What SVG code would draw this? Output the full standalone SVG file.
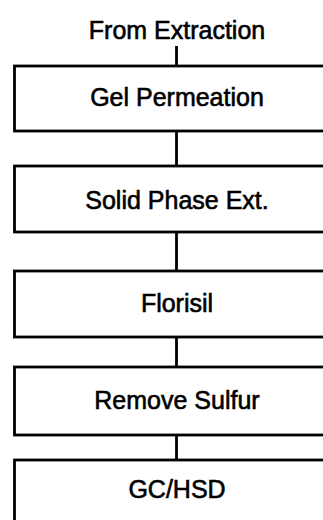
<svg xmlns="http://www.w3.org/2000/svg" width="323" height="520" viewBox="0 0 323 520">
  <style>
    .box { fill: #ffffff; stroke: #000000; stroke-width: 2.8; }
    .wire { stroke: #000000; stroke-width: 2.8; fill: none; }
    .label { font-family: "Liberation Sans", Arial, sans-serif; font-size: 25px; fill: #000000; stroke: #000000; stroke-width: 0.6; text-anchor: middle; }
  </style>
  <rect width="323" height="520" fill="#ffffff"/>

  <!-- connectors between stages -->
  <g id="connectors">
    <line class="wire" x1="176.5" y1="46" x2="176.5" y2="66"/>
    <line class="wire" x1="176.5" y1="131" x2="176.5" y2="166"/>
    <line class="wire" x1="176.5" y1="232" x2="176.5" y2="271"/>
    <line class="wire" x1="176.5" y1="337" x2="176.5" y2="367"/>
    <line class="wire" x1="176.5" y1="435" x2="176.5" y2="460"/>
  </g>

  <g id="source">
    <text class="label" x="177" y="39">From Extraction</text>
  </g>

  <g id="gel-permeation">
    <rect class="box" x="14.5" y="66" width="324" height="65"/>
    <text class="label" x="177" y="106">Gel Permeation</text>
  </g>

  <g id="solid-phase">
    <rect class="box" x="14.5" y="166" width="324" height="66"/>
    <text class="label" x="177" y="209">Solid Phase Ext.</text>
  </g>

  <g id="florisil">
    <rect class="box" x="14.5" y="271" width="324" height="66"/>
    <text class="label" x="177" y="312">Florisil</text>
  </g>

  <g id="remove-sulfur">
    <rect class="box" x="14.5" y="367" width="324" height="68"/>
    <text class="label" x="177" y="409">Remove Sulfur</text>
  </g>

  <g id="gc-hsd">
    <rect class="box" x="14.5" y="460" width="324" height="80"/>
    <text class="label" x="177" y="498">GC/HSD</text>
  </g>
</svg>
